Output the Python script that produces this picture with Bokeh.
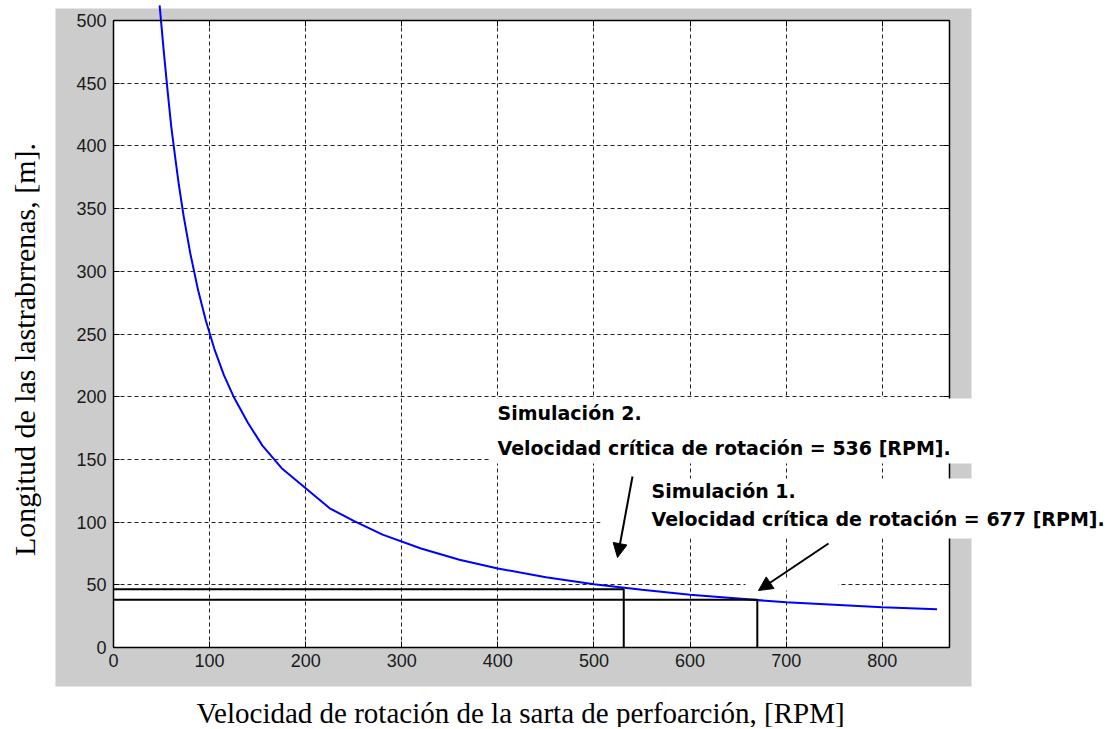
from bokeh.plotting import figure
from bokeh.models import (BoxAnnotation, Label, Arrow, NormalHead, FixedTicker, Range1d,
                          LinearAxis, Grid)
from bokeh.embed import file_html
from bokeh.resources import INLINE
import math

# ---------------- data ----------------
rpm = [48, 52, 56, 60, 64, 68, 73, 80, 88, 96, 105, 115, 125, 140, 155, 175, 200,
       225, 250, 280, 320, 360, 400, 450, 500, 550, 600, 650, 700, 750, 800, 857]
longitud = [512, 478, 446, 416, 392, 369, 344, 314, 285, 261, 238, 217, 200, 179, 161,
            143, 127, 111, 101, 90, 79, 70, 63, 56, 50.5, 46, 42, 39, 36, 34, 32, 30.5]

sim2_x = [0, 531, 531]
sim2_y = [46.5, 46.5, 0]
sim1_x = [0, 670, 670]
sim1_y = [38, 38, 0]

x_ticks = [0, 100, 200, 300, 400, 500, 600, 700, 800]
y_ticks = [0, 50, 100, 150, 200, 250, 300, 350, 400, 450, 500]

sim2_lines = ["Simulación 2.", "Velocidad crítica de rotación = 536 [RPM]."]
sim1_lines = ["Simulación 1.", "Velocidad crítica de rotación = 677 [RPM]."]
x_label = "Velocidad de rotación de la sarta de perfoarción, [RPM]"
y_label = "Longitud de las lastrabrrenas, [m]."

# ---------------- layout (canvas pixels) ----------------
X0, X1 = 0, 870          # visible axes limits
Y0, Y1 = 0, 500
F_LEFT, F_RIGHT, F_TOP, F_BOTTOM = 113, 949, 20, 647  # axes box in canvas px
W, H = 1115, 727


def dx(px):
    return (px - F_LEFT) / (F_RIGHT - F_LEFT) * (X1 - X0) + X0


def dy(py):
    return (F_BOTTOM - py) / (F_BOTTOM - F_TOP) * (Y1 - Y0) + Y0


p = figure(width=W, height=H, x_range=Range1d(dx(0), dx(W)), y_range=Range1d(dy(H), dy(0)),
           output_backend="svg", toolbar_location=None, min_border=0)
p.title.visible = False
p.border_fill_color = "white"
p.background_fill_color = "white"
p.outline_line_color = None

# grey MATLAB figure area and white axes area (bottom-most level)
p.add_layout(BoxAnnotation(left=dx(55), right=dx(971), top=dy(8), bottom=dy(686),
                           fill_color="#cccccc", fill_alpha=1, line_alpha=0, level="image"))
p.add_layout(BoxAnnotation(left=X0, right=X1, top=Y1, bottom=Y0,
                           fill_color="white", fill_alpha=1, line_alpha=0, level="image"))

# axes drawn at the axes-box edges
bottom_ax = p.below[0]
left_ax = p.left[0]
bottom_ax.fixed_location = Y0
left_ax.fixed_location = X0
bottom_ax.bounds = (X0, X1)
left_ax.bounds = (Y0, Y1)
top_ax = LinearAxis(fixed_location=Y1, bounds=(X0, X1))
right_ax = LinearAxis(fixed_location=X1, bounds=(Y0, Y1))
p.add_layout(top_ax, "above")
p.add_layout(right_ax, "right")

for ax in (bottom_ax, left_ax, top_ax, right_ax):
    ax.major_tick_in = 6
    ax.major_tick_out = 0
    ax.minor_tick_line_color = None
    ax.axis_line_color = "black"
    ax.axis_line_width = 1.5
    ax.major_tick_line_color = "black"
    ax.major_label_text_font = "Liberation Sans"
    ax.major_label_text_font_size = "18px"
    ax.major_label_text_color = "#1a1a1a"
bottom_ax.ticker = FixedTicker(ticks=x_ticks)
top_ax.ticker = FixedTicker(ticks=x_ticks)
left_ax.ticker = FixedTicker(ticks=y_ticks)
right_ax.ticker = FixedTicker(ticks=y_ticks)
top_ax.major_label_text_color = None
right_ax.major_label_text_color = None
bottom_ax.major_label_standoff = 6
left_ax.major_label_standoff = 7

# grid restricted to the axes box
p.renderers = [r for r in p.renderers if not isinstance(r, Grid)]
for g in list(p.center):
    if isinstance(g, Grid):
        p.center.remove(g)
xg = Grid(dimension=0, ticker=FixedTicker(ticks=x_ticks), bounds=(X0, X1), cross_bounds=(Y0, Y1))
yg = Grid(dimension=1, ticker=FixedTicker(ticks=y_ticks), bounds=(Y0, Y1), cross_bounds=(X0, X1))
for g in (xg, yg):
    g.grid_line_color = "#222222"
    g.grid_line_dash = "4 3"
    g.grid_line_width = 1
    p.add_layout(g, "center")

# curve
p.line(rpm, longitud, line_color="#0000ff", line_width=2)

# critical speed construction lines
p.line(sim2_x, sim2_y, line_color="black", line_width=2)
p.line(sim1_x, sim1_y, line_color="black", line_width=2)

# white annotation boxes (cover grid / frame where the notes were pasted)
for l, r, t, b in [(490, W, 398, 463), (600, W, 478, 538), (745, 838, 579, 590)]:
    p.add_layout(BoxAnnotation(left=dx(l), right=dx(r), top=dy(t), bottom=dy(b),
                               fill_color="white", fill_alpha=1, line_alpha=0))

# arrows
for (xs, ys, xe, ye) in [(632, 476, 617, 557), (828, 543, 758, 590)]:
    p.add_layout(Arrow(end=NormalHead(size=14, fill_color="black", line_color="black"),
                       x_start=dx(xs), y_start=dy(ys), x_end=dx(xe), y_end=dy(ye),
                       line_color="black", line_width=2))


def dlabel(px, py, text, font, size, style="normal", align="left", angle=0.0):
    p.add_layout(Label(x=dx(px), y=dy(py), text=text,
                       text_font=font, text_font_size=size, text_font_style=style,
                       text_align=align, text_baseline="middle", angle=angle,
                       text_color="black"))


for ty, txt in zip([412, 447], sim2_lines):
    dlabel(497, ty, txt, "DejaVu Sans", "19px", "bold")
for ty, txt in zip([490, 518], sim1_lines):
    dlabel(651, ty, txt, "DejaVu Sans", "19px", "bold")

# axis titles
dlabel(520, 712, x_label, "Liberation Serif", "29px", align="center")
dlabel(24, 349, y_label, "Liberation Serif", "30px", align="center", angle=math.pi / 2)

open("out.html", "w").write(file_html(p, INLINE))
